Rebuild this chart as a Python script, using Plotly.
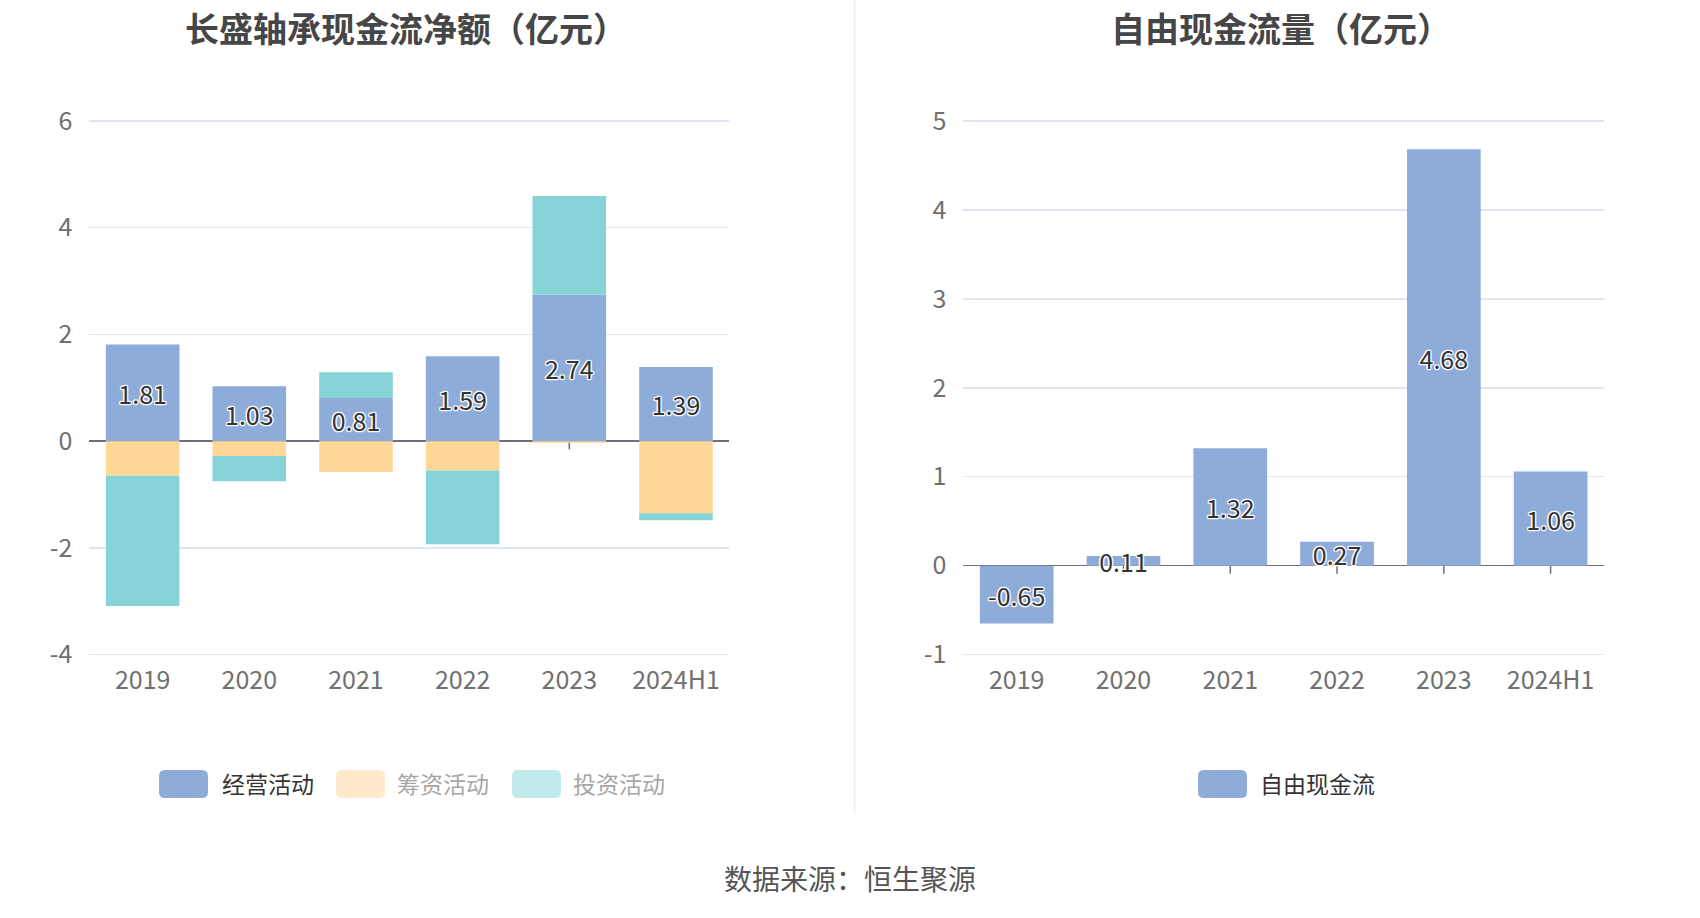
import plotly.graph_objects as go

# ---------------- data ----------------
categories = ["2019", "2020", "2021", "2022", "2023", "2024H1"]
operating = [1.81, 1.03, 0.81, 1.59, 2.74, 1.39]
financing = [-0.65, -0.28, -0.58, -0.55, -0.03, -1.35]
investing = [-2.44, -0.47, 0.48, -1.38, 1.85, -0.13]
free_cash_flow = [-0.65, 0.11, 1.32, 0.27, 4.68, 1.06]

left_ticks = [-4, -2, 0, 2, 4, 6]
left_tick_labels = ["-4", "-2", "0", "2", "4", "6"]
right_ticks = [-1, 0, 1, 2, 3, 4, 5]
right_tick_labels = ["-1", "0", "1", "2", "3", "4", "5"]

title_left = "长盛轴承现金流净额（亿元）"
title_right = "自由现金流量（亿元）"
legend_left = ["经营活动", "筹资活动", "投资活动"]
legend_right = ["自由现金流"]
source_text = "数据来源：恒生聚源"

# ---------------- styles ----------------
W, H = 1700, 918
FONT = "Noto Sans CJK SC"
C_OP = "#8EACDA"
C_FIN = "#FFD898"
C_INV = "#86D4D7"
C_FIN_OFF = "#FFEACB"
C_INV_OFF = "#C2E9EB"
GRID = "#E0E6F1"
AXIS = "#6E7079"
TICK_TXT = "#707070"
LABEL_SHADOW = ("1px 1px 1px #fff, -1px -1px 1px #fff, 1px -1px 1px #fff, "
                "-1px 1px 1px #fff, 0 1px 1px #fff, 0 -1px 1px #fff, 1px 0 1px #fff, -1px 0 1px #fff")


def px_x(x):
    return x / W


def px_y(y):
    return 1 - y / H


fig = go.Figure()

label_font = dict(family=FONT, size=25, color="#333333", shadow=LABEL_SHADOW)

fig.add_trace(go.Bar(
    x=categories, y=operating, marker=dict(color=C_OP, line=dict(width=0)),
    text=[f"{v:.2f}" for v in operating], textposition="inside", textangle=0,
    insidetextanchor="middle", constraintext="none", textfont=label_font,
    showlegend=False, xaxis="x", yaxis="y", name=legend_left[0]))
fig.add_trace(go.Bar(
    x=categories, y=financing, marker=dict(color=C_FIN, line=dict(width=0)),
    showlegend=False, xaxis="x", yaxis="y", name=legend_left[1]))
fig.add_trace(go.Bar(
    x=categories, y=investing, marker=dict(color=C_INV, line=dict(width=0)),
    showlegend=False, xaxis="x", yaxis="y", name=legend_left[2]))
fig.add_trace(go.Bar(
    x=categories, y=free_cash_flow, marker=dict(color=C_OP, line=dict(width=0)),
    text=[f"{v:.2f}" for v in free_cash_flow], textposition="inside", textangle=0,
    insidetextanchor="middle", constraintext="none", textfont=label_font,
    cliponaxis=False,
    showlegend=False, xaxis="x2", yaxis="y2", name=legend_right[0]))

tickfont = dict(family=FONT, size=25, color=TICK_TXT)
common_x = dict(type="category", showgrid=False, showline=False, ticks="",
                tickfont=tickfont, ticklabelstandoff=7, fixedrange=True,
                automargin=False)
common_y = dict(showgrid=True, gridcolor=GRID, gridwidth=1.5, zeroline=True,
                zerolinecolor=AXIS, zerolinewidth=1.5, showline=False, ticks="",
                tickfont=tickfont, ticklabelstandoff=16, automargin=False,
                fixedrange=True)

fig.update_layout(
    width=W, height=H, autosize=False,
    margin=dict(l=0, r=0, t=0, b=0, pad=0),
    paper_bgcolor="white", plot_bgcolor="white",
    barmode="relative", bargap=0.31,
    font=dict(family=FONT),
    hovermode=False,
    xaxis=dict(domain=[px_x(89.3), px_x(729.3)], anchor="y",
               range=[-0.5, len(categories) - 0.5], **common_x),
    yaxis=dict(domain=[px_y(656), px_y(119.5)], anchor="x", range=[-4.025, 6.025],
               tickvals=left_ticks, ticktext=left_tick_labels, **common_y),
    xaxis2=dict(domain=[px_x(963.3), px_x(1604)], anchor="y2",
                range=[-0.5, len(categories) - 0.5], **common_x),
    yaxis2=dict(domain=[px_y(656), px_y(119.5)], anchor="x2", range=[-1.015, 5.015],
                tickvals=right_ticks, ticktext=right_tick_labels, **common_y),
)

shapes = []
annotations = []

# small category ticks hanging from the zero line (category index positions)
for xr, yr in (("x", "y"), ("x2", "y2")):
    for i, _c in enumerate(categories):
        shapes.append(dict(type="line", xref=xr, yref=yr, x0=i, x1=i,
                           ysizemode="pixel", yanchor=0, y0=0, y1=-8,
                           line=dict(color=AXIS, width=1.5), layer="below"))

# separator between the two panels
shapes.append(dict(type="line", xref="paper", yref="paper",
                   x0=px_x(854.5), x1=px_x(854.5), y0=1, y1=px_y(813),
                   line=dict(color="#EEEEEE", width=1.5)))

# titles
for txt, cx, fs in ((title_left, 406, 34), (title_right, 1281, 34)):
    annotations.append(dict(text=f"<b>{txt}</b>", xref="paper", yref="paper",
                            x=px_x(cx), y=px_y(27), xanchor="center", yanchor="middle",
                            showarrow=False,
                            font=dict(family=FONT, size=fs, color="#464646")))


def rounded_rect(x0, y0, x1, y1, r):
    # pixel coords -> paper coords path with rounded corners
    def P(x, y):
        return f"{px_x(x):.6f},{px_y(y):.6f}"
    return (f"M {P(x0 + r, y0)} L {P(x1 - r, y0)} Q {P(x1, y0)} {P(x1, y0 + r)} "
            f"L {P(x1, y1 - r)} Q {P(x1, y1)} {P(x1 - r, y1)} "
            f"L {P(x0 + r, y1)} Q {P(x0, y1)} {P(x0, y1 - r)} "
            f"L {P(x0, y0 + r)} Q {P(x0, y0)} {P(x0 + r, y0)} Z")


# custom legends (first item active, others shown greyed as in the source)
legend_items = [
    (legend_left[0], C_OP, "#333333", 159, 220),
    (legend_left[1], C_FIN_OFF, "#A6A6A6", 336, 395),
    (legend_left[2], C_INV_OFF, "#A6A6A6", 512, 571),
    (legend_right[0], C_OP, "#333333", 1198, 1258),
]
for name, sw, tc, sx, tx in legend_items:
    shapes.append(dict(type="path", xref="paper", yref="paper",
                       path=rounded_rect(sx, 770, sx + 49, 798, 6),
                       fillcolor=sw, line=dict(width=0)))
    annotations.append(dict(text=name, xref="paper", yref="paper",
                            x=px_x(tx), y=px_y(783), xanchor="left", yanchor="middle",
                            showarrow=False, font=dict(family=FONT, size=23, color=tc)))

# source
annotations.append(dict(text=source_text, xref="paper", yref="paper",
                        x=px_x(850), y=px_y(878), xanchor="center", yanchor="middle",
                        showarrow=False, font=dict(family=FONT, size=28, color="#555555")))

fig.update_layout(shapes=shapes, annotations=annotations)

fig.write_html("out.html", config={"displayModeBar": False, "staticPlot": True},
               post_script="document.body.style.margin='0';document.body.style.padding='0';")
